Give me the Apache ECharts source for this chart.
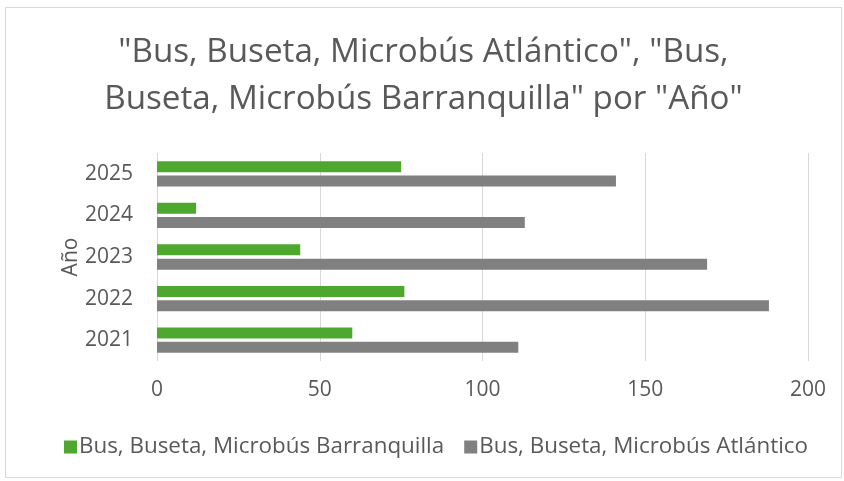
<!DOCTYPE html>
<html>
<head>
<meta charset="utf-8">
<script src="https://cdn.jsdelivr.net/npm/echarts@6/dist/echarts.min.js"></script>
<style>
  html, body { margin: 0; padding: 0; background: #fff; }
  #chart { position: absolute; left: 5px; top: 7px; width: 837px; height: 471px; border: 1px solid #d9d9d9; box-sizing: border-box; }
</style>
</head>
<body>
<div id="chart"></div>
<script>
// categorias y valores
const years = ['2021', '2022', '2023', '2024', '2025'];
const barranquilla = [60, 76, 44, 12, 75];
const atlantico = [111, 188, 169, 113, 141];
const xTicks = [0, 50, 100, 150, 200];

const font = '"Open Sans", "Noto Sans", sans-serif';
const chart = echarts.init(document.getElementById('chart'));

chart.setOption({
  animation: false,
  title: {
    text: '"Bus, Buseta, Microbús Atlántico", "Bus,\nBuseta, Microbús Barranquilla" por "Año"',
    left: 'center',
    top: 16,
    textStyle: { fontFamily: font, fontSize: 33.2, fontWeight: 'normal', color: '#595959', lineHeight: 47 }
  },
  legend: {
    data: ['Bus, Buseta, Microbús Barranquilla', 'Bus, Buseta, Microbús Atlántico'],
    bottom: 14,
    left: 53,
    itemWidth: 13,
    itemHeight: 13,
    itemGap: 20,
    icon: 'rect',
    textStyle: { fontFamily: font, fontSize: 22.4, color: '#595959', padding: [0, 0, 0, -3] }
  },
  grid: { left: 151, right: 33, top: 145, bottom: 116, containLabel: false },
  xAxis: {
    type: 'value',
    min: xTicks[0],
    max: xTicks[xTicks.length - 1],
    interval: 50,
    axisLine: { show: false },
    axisTick: { show: false },
    axisLabel: { fontFamily: font, fontSize: 21, color: '#595959', margin: 19 },
    splitLine: { lineStyle: { color: '#d9d9d9', width: 1 } }
  },
  yAxis: {
    type: 'category',
    data: years,
    name: 'Año',
    nameLocation: 'middle',
    nameGap: 75,
    nameRotate: 90,
    nameMoveOverlap: false,
    nameTextStyle: { fontFamily: font, fontSize: 21, color: '#595959' },
    axisLine: { show: false },
    axisTick: { show: false },
    axisLabel: { fontFamily: font, fontSize: 21, color: '#595959', margin: 24 }
  },
  series: [
    {
      name: 'Bus, Buseta, Microbús Barranquilla',
      type: 'bar',
      data: barranquilla,
      barWidth: 11,
      barGap: '30%',
      itemStyle: { color: '#4ea72e' }
    },
    {
      name: 'Bus, Buseta, Microbús Atlántico',
      type: 'bar',
      data: atlantico,
      barWidth: 11,
      barGap: '30%',
      itemStyle: { color: '#808080' }
    }
  ]
});

window.addEventListener('resize', chart.resize);
</script>
</body>
</html>
